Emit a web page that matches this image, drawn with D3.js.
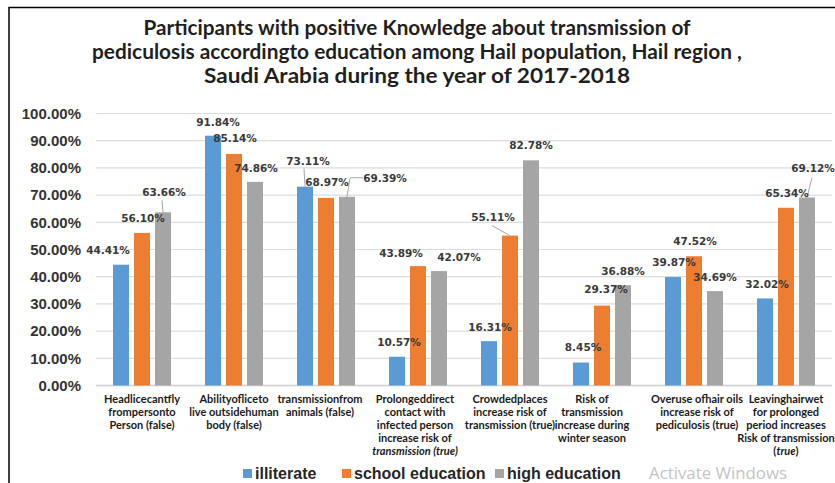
<!DOCTYPE html>
<html>
<head>
<meta charset="utf-8">
<script src="https://cdn.jsdelivr.net/npm/d3@7"></script>
<style>
  html, body { margin: 0; padding: 0; background: #ffffff; }
  svg { display: block; }
</style>
</head>
<body>
<svg id="chart" width="835" height="483"></svg>
<script>
// ---------------- DATA ----------------
const titleLines = [
  "Participants with positive Knowledge about  transmission of",
  "pediculosis accordingto education  among Hail population, Hail region ,",
  "Saudi Arabia during the year of 2017-2018"
];
const categories = ["c1", "c2", "c3", "c4", "c5", "c6", "c7", "c8"];
const categoryLabels = [
  ["Headlicecantfly", "frompersonto", "Person (false)"],
  ["Abilityofliceto", "live outsidehuman", "body (false)"],
  ["transmissionfrom", "animals (false)"],
  ["Prolongeddirect", "contact with", "infected person", "increase risk of", "*transmission (true)*"],
  ["Crowdedplaces", "increase risk of", "transmission (true)"],
  ["Risk of", "transmission", "increase during", "winter season"],
  ["Overuse ofhair oils", "increase risk of", "pediculosis (true)"],
  ["Leavinghairwet", "for prolonged", "period increases", "Risk of transmission", "(*true*)"]
];
const seriesNames = ["illiterate", "school education", "high education"];
const illiterate      = [44.41, 91.84, 73.11, 10.57, 16.31, 8.45, 39.87, 32.02];
const schoolEducation = [56.10, 85.14, 68.97, 43.89, 55.11, 29.37, 47.52, 65.34];
const highEducation   = [63.66, 74.86, 69.39, 42.07, 82.78, 36.88, 34.69, 69.12];
const yTicks = [0, 10, 20, 30, 40, 50, 60, 70, 80, 90, 100];

// ---------------- STYLE / LAYOUT ----------------
const colors = ["#5B9BD5", "#ED7D31", "#A5A5A5"];
const seriesValues = [illiterate, schoolEducation, highEducation];
// data-label offsets (dx, dy) relative to bar centre / bar top
const labelOffsets = [
  [[-13,-15],[5,-14],[3,-26],[2,-15],[1,-14],[2,-16],[1,-15],[2,-14]],
  [[1,-15],[1,-16],[1,-16],[-17,-13],[-17,-19],[4,-17],[1,-15],[1,-15]],
  [[1,-20],[1,-14],[38,-19],[20,-14],[0,-15],[0,-14],[0,-14],[6,-29]]
];
// leader lines: [series, category, kind]
const leaders = [[0,2,"v"],[2,0,"v"],[2,7,"d"],[1,4,"d"],[2,2,"elbow"]];
const catLabelShift = [0, 0, -6, -3, 0, -10, 3, 0];

const svg = d3.select("#chart");
const plotLeft = 96, plotRight = 832, yBottom = 385.5, yTop = 113.5;

// frame
svg.append("path")
  .attr("d", `M9,490 L9,7.5 L840,7.5`)
  .attr("fill", "none").attr("stroke", "#000").attr("stroke-width", 1.5);

// title
const titleY = [27, 51, 75];
const titleWidths = [547, 650, 426];
titleLines.forEach((t, i) => {
  svg.append("text")
    .attr("x", 417).attr("y", titleY[i])
    .attr("text-anchor", "middle").attr("dominant-baseline", "central")
    .attr("font-family", "Lato, 'Open Sans', sans-serif")
    .attr("font-weight", 700).attr("font-size", 20)
    .attr("fill", "#1f1f1f")
    .attr("textLength", titleWidths[i]).attr("lengthAdjust", "spacingAndGlyphs")
    .text(t);
});

// scales
const x0 = d3.scaleBand().domain(categories).range([plotLeft, plotRight]).paddingInner(0).paddingOuter(0);
const x1 = d3.scaleBand().domain(seriesNames).range([-31.5, 31.5]).paddingInner(5/21).paddingOuter(2.5/21);
const y = d3.scaleLinear().domain([0, 100]).range([yBottom, yTop]);

// gridlines
svg.append("g").selectAll("line").data(yTicks).join("line")
  .attr("x1", plotLeft).attr("x2", plotRight)
  .attr("y1", d => y(d)).attr("y2", d => y(d))
  .attr("stroke", d => d === 0 ? "#d0d0d0" : "#dcdcdc").attr("stroke-width", d => d === 0 ? 1.5 : 1.2);

// y axis labels
const yAxis = d3.axisLeft(y).tickValues(yTicks).tickSize(0).tickPadding(0)
  .tickFormat(d => d3.format(".2f")(d) + "%");
const ya = svg.append("g").attr("transform", `translate(81,0)`).call(yAxis);
ya.select(".domain").remove();
ya.selectAll("text")
  .attr("font-family", "'Liberation Sans', Arial, sans-serif")
  .attr("font-weight", "bold").attr("font-size", 15).attr("fill", "#333");

// bars
seriesValues.forEach((vals, s) => {
  svg.append("g").selectAll("rect").data(vals).join("rect")
    .attr("x", (d, i) => x0(categories[i]) + x0.bandwidth() / 2 + x1(seriesNames[s]))
    .attr("y", d => y(d))
    .attr("width", x1.bandwidth())
    .attr("height", d => y(0) - y(d))
    .attr("fill", colors[s]);
});

function barCx(s, i) { return x0(categories[i]) + x0.bandwidth() / 2 + x1(seriesNames[s]) + x1.bandwidth() / 2; }
function labelPos(s, i) {
  return [barCx(s, i) + labelOffsets[s][i][0], y(seriesValues[s][i]) + labelOffsets[s][i][1]];
}

// leader lines
leaders.forEach(([s, i, kind]) => {
  const bx = barCx(s, i), by = y(seriesValues[s][i]);
  const [lx, ly] = labelPos(s, i);
  let pts;
  if (kind === "v") pts = [[bx, by], [bx - 1, ly + 8]];
  else if (kind === "d") pts = [[bx, by], [lx - 1, ly + 9]];
  else pts = [[bx, by], [bx + 3, ly], [lx - 22, ly]];
  svg.append("path").attr("d", d3.line()(pts))
    .attr("fill", "none").attr("stroke", "#a6a6a6").attr("stroke-width", 1);
});

// data labels
seriesValues.forEach((vals, s) => {
  svg.append("g").selectAll("text").data(vals).join("text")
    .attr("x", (d, i) => labelPos(s, i)[0])
    .attr("y", (d, i) => labelPos(s, i)[1])
    .attr("text-anchor", "middle").attr("dominant-baseline", "central")
    .attr("font-family", "'DejaVu Sans', Verdana, sans-serif")
    .attr("font-weight", "bold").attr("font-size", 10.5).attr("fill", "#3a3a3a")
    .text(d => d3.format(".2f")(d) + "%");
});

// category labels
categoryLabels.forEach((lines, i) => {
  const cx = x0(categories[i]) + x0.bandwidth() / 2 + catLabelShift[i];
  lines.forEach((line, j) => {
    const t = svg.append("text")
      .attr("x", cx).attr("y", 398 + j * 13.1)
      .attr("text-anchor", "middle").attr("dominant-baseline", "central")
      .attr("font-family", "Lato, 'Liberation Sans', sans-serif")
      .attr("font-weight", "bold").attr("font-size", 11).attr("fill", "#1a1a1a");
    const parts = line.split("*");
    parts.forEach((p, k) => {
      if (!p) return;
      t.append("tspan").attr("font-style", k % 2 === 1 ? "italic" : "normal").text(p);
    });
  });
});

// legend
const legendX = [243, 342, 495];
seriesNames.forEach((n, s) => {
  svg.append("rect").attr("x", legendX[s]).attr("y", 469).attr("width", 9).attr("height", 9).attr("fill", colors[s]);
  svg.append("text").attr("x", legendX[s] + 12).attr("y", 473.5)
    .attr("dominant-baseline", "central")
    .attr("font-family", "'Liberation Sans', Arial, sans-serif")
    .attr("font-weight", "bold").attr("font-size", 16).attr("fill", "#262626")
    .text(n);
});

// watermark
svg.append("text").attr("x", 649).attr("y", 472.5)
  .attr("dominant-baseline", "central")
  .attr("font-family", "'Open Sans', 'Liberation Sans', sans-serif")
  .attr("font-size", 16).attr("fill", "#c4c4c4")
  .attr("textLength", 138).attr("lengthAdjust", "spacingAndGlyphs")
  .text("Activate Windows");
</script>
</body>
</html>
